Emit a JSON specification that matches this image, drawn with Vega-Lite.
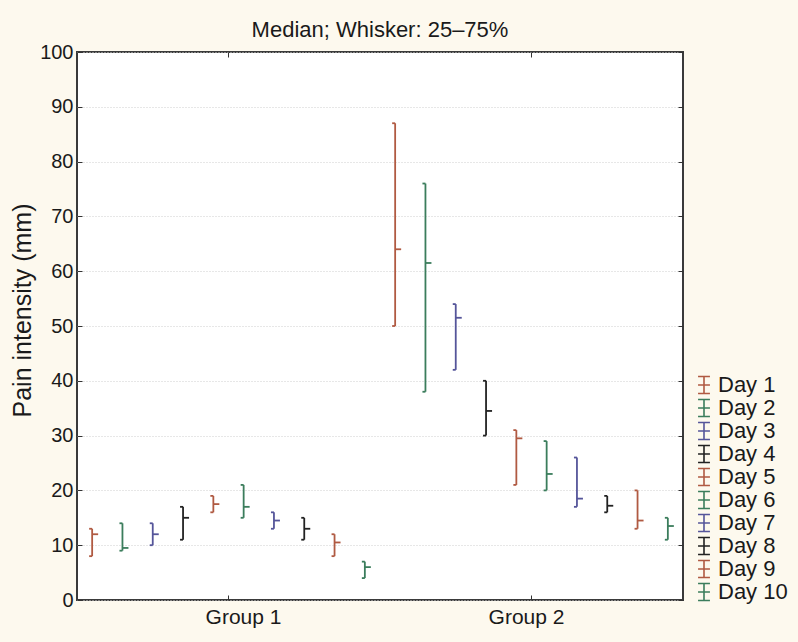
{
  "$schema": "https://vega.github.io/schema/vega-lite/v6.json",
  "width": 606,
  "height": 548,
  "autosize": {"type": "none"},
  "padding": {"left": 77, "top": 52, "right": 115, "bottom": 42},
  "background": "#fdf9ee",
  "title": {"text": "Median; Whisker: 25–75%", "fontSize": 22, "font": "Liberation Sans", "fontWeight": "normal", "color": "#1a1a1a", "offset": 0},
  "config": {
    "font": "Liberation Sans",
    "view": {"fill": "#ffffff", "stroke": "#3a3a3a", "strokeWidth": 2},
    "axis": {"labelFont": "Liberation Sans", "titleFont": "Liberation Sans", "labelColor": "#1a1a1a", "titleColor": "#1a1a1a", "domain": false, "labelFontSize": 20, "titleFontWeight": "normal", "tickColor": "#333333", "tickWidth": 1}
  },
  "resolve": {"axis": {"x": "independent", "y": "independent"}},
  "data": {"values": [
    {"group": "Group 1", "day": "Day 1", "q1": 8, "q3": 13, "median": 12},
    {"group": "Group 1", "day": "Day 2", "q1": 9, "q3": 14, "median": 9.5},
    {"group": "Group 1", "day": "Day 3", "q1": 10, "q3": 14, "median": 12},
    {"group": "Group 1", "day": "Day 4", "q1": 11, "q3": 17, "median": 15},
    {"group": "Group 1", "day": "Day 5", "q1": 16, "q3": 19, "median": 17.5},
    {"group": "Group 1", "day": "Day 6", "q1": 15, "q3": 21, "median": 17},
    {"group": "Group 1", "day": "Day 7", "q1": 13, "q3": 16, "median": 14.5},
    {"group": "Group 1", "day": "Day 8", "q1": 11, "q3": 15, "median": 13},
    {"group": "Group 1", "day": "Day 9", "q1": 8, "q3": 12, "median": 10.5},
    {"group": "Group 1", "day": "Day 10", "q1": 4, "q3": 7, "median": 6},
    {"group": "Group 2", "day": "Day 1", "q1": 50, "q3": 87, "median": 64},
    {"group": "Group 2", "day": "Day 2", "q1": 38, "q3": 76, "median": 61.5},
    {"group": "Group 2", "day": "Day 3", "q1": 42, "q3": 54, "median": 51.5},
    {"group": "Group 2", "day": "Day 4", "q1": 30, "q3": 40, "median": 34.5},
    {"group": "Group 2", "day": "Day 5", "q1": 21, "q3": 31, "median": 29.5},
    {"group": "Group 2", "day": "Day 6", "q1": 20, "q3": 29, "median": 23},
    {"group": "Group 2", "day": "Day 7", "q1": 17, "q3": 26, "median": 18.5},
    {"group": "Group 2", "day": "Day 8", "q1": 16, "q3": 19, "median": 17.2},
    {"group": "Group 2", "day": "Day 9", "q1": 13, "q3": 20, "median": 14.5},
    {"group": "Group 2", "day": "Day 10", "q1": 11, "q3": 15, "median": 13.5}
  ]},
  "encoding": {
    "xOffset": {"field": "day", "type": "nominal",
      "sort": ["Day 1", "Day 2", "Day 3", "Day 4", "Day 5", "Day 6", "Day 7", "Day 8", "Day 9", "Day 10"],
      "scale": {"paddingInner": 0, "paddingOuter": 0}},
    "color": {"field": "day", "type": "nominal",
      "sort": ["Day 1", "Day 2", "Day 3", "Day 4", "Day 5", "Day 6", "Day 7", "Day 8", "Day 9", "Day 10"],
      "scale": {"domain": ["Day 1", "Day 2", "Day 3", "Day 4", "Day 5", "Day 6", "Day 7", "Day 8", "Day 9", "Day 10"],
        "range": ["#b05a42", "#3b7d5c", "#55559a", "#222222", "#b05a42", "#3b7d5c", "#55559a", "#222222", "#b05a42", "#3b7d5c"]},
      "legend": {"title": null, "orient": "none", "legendX": 616, "legendY": 322, "padding": 0,
        "symbolType": "M-0.7,-1H0.7M0,-1V1M-0.7,1H0.7M-0.7,0H0.7", "symbolSize": 289, "symbolStrokeWidth": 1.6,
        "symbolFillColor": "transparent", "labelFontSize": 22, "labelFont": "Liberation Sans", "labelColor": "#1a1a1a",
        "labelOffset": 3, "rowPadding": -3}}
  },
  "layer": [
    {"mark": {"type": "rule", "strokeWidth": 1.8},
      "encoding": {
        "x": {"field": "group", "type": "nominal", "title": null,
          "scale": {"paddingInner": 0, "paddingOuter": 0},
          "axis": {"labelAngle": 0, "tickSize": -5, "labelPadding": 11, "grid": false, "labelFontSize": 21,
            "labelOffset": {"condition": {"test": "datum.value === 'Group 1'", "value": 15}, "value": -5}}},
        "y": {"field": "q1", "type": "quantitative", "title": "Pain intensity (mm)",
          "scale": {"domain": [0, 100], "nice": false},
          "axis": {"tickCount": 10, "tickSize": -5, "labelPadding": 9, "titleFontSize": 25, "titlePadding": 4, "titleY": 258,
            "grid": true, "gridColor": "#cfcfcf", "gridDash": [1, 2], "gridWidth": 1}},
        "y2": {"field": "q3"}}},
    {"mark": {"type": "point", "shape": "M-1,0H0", "size": 36, "filled": false, "opacity": 1, "strokeWidth": 1.8},
      "encoding": {
        "x": {"field": "group", "type": "nominal",
          "axis": {"orient": "top", "labels": false, "tickSize": -5, "title": null, "grid": false}},
        "y": {"field": "q1", "type": "quantitative",
          "axis": {"orient": "right", "labels": false, "tickSize": -5, "tickCount": 10, "title": null, "grid": false}}}},
    {"mark": {"type": "point", "shape": "M-1,0H0", "size": 36, "filled": false, "opacity": 1, "strokeWidth": 1.8},
      "encoding": {
        "x": {"field": "group", "type": "nominal", "axis": null},
        "y": {"field": "q3", "type": "quantitative", "axis": null}}},
    {"mark": {"type": "point", "shape": "M0,0H1", "size": 144, "filled": false, "opacity": 1, "strokeWidth": 1.8},
      "encoding": {
        "x": {"field": "group", "type": "nominal", "axis": null},
        "y": {"field": "median", "type": "quantitative", "axis": null}}}
  ]
}
